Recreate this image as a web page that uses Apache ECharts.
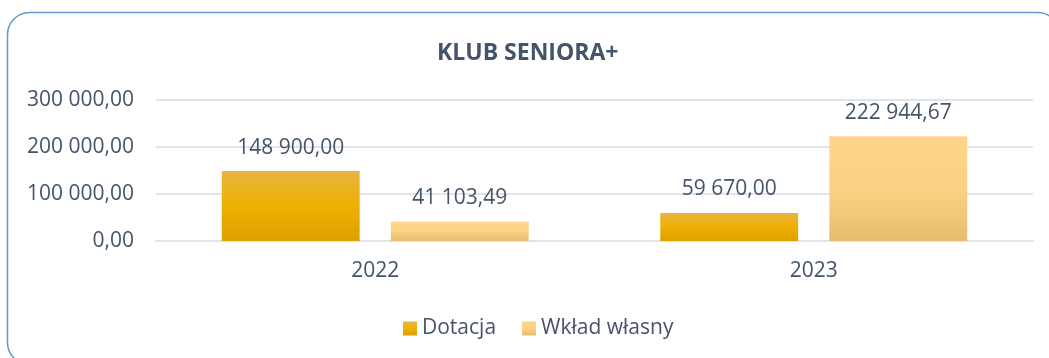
<!DOCTYPE html>
<html>
<head>
<meta charset="utf-8">
<script src="https://cdn.jsdelivr.net/npm/echarts@6/dist/echarts.min.js"></script>
<style>
  html, body { margin: 0; padding: 0; background: #fff; }
  #chart { width: 1049px; height: 358px; }
</style>
</head>
<body>
<div id="chart"></div>
<script>
// Chart data
const title = 'KLUB SENIORA+';
const years = ['2022', '2023'];
const seriesNames = ['Dotacja', 'Wkład własny'];
const dotacja = [148900.00, 59670.00];
const wkladWlasny = [41103.49, 222944.67];
const yTicks = [0, 100000, 200000, 300000];

// Polish number format: space as thousands separator, comma as decimal mark
function plNumber(v) {
  const parts = Number(v).toFixed(2).split('.');
  const intPart = parts[0].replace(/\B(?=(\d{3})+(?!\d))/g, ' ');
  return intPart + ',' + parts[1];
}

const textColor = '#44546A';
const fontFamily = '"Open Sans", "Noto Sans", sans-serif';
const fontSize = 21;

const gradDotacja = new echarts.graphic.LinearGradient(0, 0, 0, 1, [
  { offset: 0, color: '#E9B442' },
  { offset: 0.5, color: '#EEB000' },
  { offset: 1, color: '#DDA000' }
]);
const gradWklad = new echarts.graphic.LinearGradient(0, 0, 0, 1, [
  { offset: 0, color: '#FFD48A' },
  { offset: 0.5, color: '#FDD184' },
  { offset: 1, color: '#E6BD6C' }
]);

const chart = echarts.init(document.getElementById('chart'), null, { renderer: 'canvas' });

const labelStyle = {
  show: true,
  position: 'top',
  distance: 13,
  color: textColor,
  fontFamily: fontFamily,
  fontSize: fontSize,
  formatter: p => plNumber(p.value)
};

chart.setOption({
  animation: false,
  backgroundColor: '#fff',
  graphic: [{
    type: 'rect',
    silent: true,
    shape: { x: 7.5, y: 12.5, width: 1052, height: 352, r: 22 },
    style: { fill: 'none', stroke: '#5B9BD5', lineWidth: 1.5 }
  }],
  title: {
    text: title,
    left: 432,
    top: 37,
    textStyle: { color: textColor, fontFamily: fontFamily, fontSize: 23, fontWeight: 'bold' }
  },
  legend: {
    data: seriesNames,
    top: 313,
    left: 398,
    itemWidth: 14,
    itemHeight: 14,
    itemGap: 26,
    icon: 'rect',
    textStyle: { color: textColor, fontFamily: fontFamily, fontSize: fontSize }
  },
  grid: { left: 156, right: 16, top: 100, bottom: 117 },
  xAxis: {
    type: 'category',
    data: years,
    axisLine: { show: true, lineStyle: { color: '#E1E4EA', width: 2 } },
    axisTick: { show: false },
    axisLabel: { color: textColor, fontFamily: fontFamily, fontSize: fontSize, margin: 20 }
  },
  yAxis: {
    type: 'value',
    min: yTicks[0],
    max: yTicks[yTicks.length - 1],
    interval: yTicks[1] - yTicks[0],
    axisLine: { show: false },
    axisTick: { show: false },
    splitLine: { lineStyle: { color: '#E1E4EA', width: 2 } },
    axisLabel: {
      color: textColor, fontFamily: fontFamily, fontSize: fontSize, margin: 22,
      formatter: v => plNumber(v)
    }
  },
  series: [
    {
      name: seriesNames[0],
      type: 'bar',
      data: dotacja,
      barGap: '22.6%',
      barCategoryGap: '30%',
      itemStyle: { color: gradDotacja },
      label: labelStyle
    },
    {
      name: seriesNames[1],
      type: 'bar',
      data: wkladWlasny,
      itemStyle: { color: gradWklad },
      label: labelStyle
    }
  ]
});
</script>
</body>
</html>
